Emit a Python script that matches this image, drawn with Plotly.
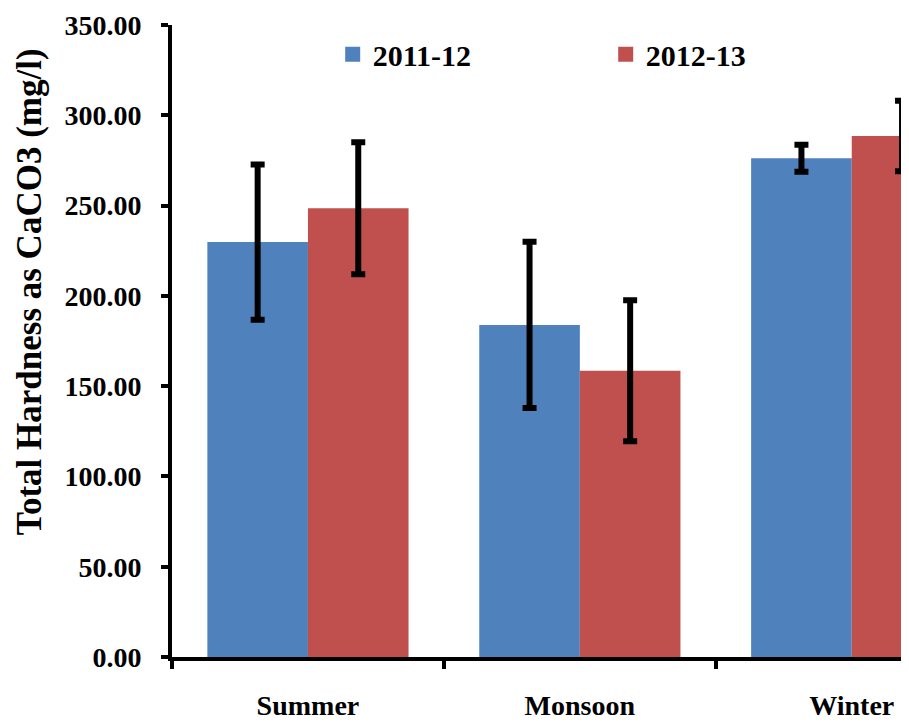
import plotly.graph_objects as go

categories = ["Summer", "Monsoon", "Winter"]
series_names = ["2011-12", "2012-13"]
values_2011 = [229.8, 183.9, 276.2]
values_2012 = [248.5, 158.5, 288.5]
err_2011 = [43.0, 46.0, 7.5]
err_2012 = [36.5, 39.0, 19.5]
y_tickvals = [0, 50, 100, 150, 200, 250, 300, 350]
y_ticktext = ["0.00", "50.00", "100.00", "150.00", "200.00", "250.00", "300.00", "350.00"]
y_title = "Total Hardness as CaCO3 (mg/l)"

BLUE = "#4F81BD"
RED = "#C0504D"
FONT = "Liberation Serif"

fig = go.Figure()
for name, vals, errs, col in [
    (series_names[0], values_2011, err_2011, BLUE),
    (series_names[1], values_2012, err_2012, RED),
]:
    fig.add_trace(go.Bar(
        x=categories, y=vals, name=name, marker=dict(color=col, line=dict(width=0)),
        error_y=dict(type="data", array=errs, visible=True, color="black", thickness=6, width=7),
        showlegend=False, cliponaxis=False,
    ))
    fig.add_trace(go.Scatter(
        x=[None], y=[None], mode="markers", name=name,
        marker=dict(symbol="square", size=15, color=col),
        showlegend=True,
    ))

fig.update_layout(
    width=909, height=727,
    margin=dict(l=164, r=0, t=17, b=78),
    paper_bgcolor="white", plot_bgcolor="white",
    barmode="group", bargap=0.26, bargroupgap=0,
    font=dict(family=FONT, size=28, color="black"),
    legend=dict(
        orientation="h", x=0.2157, y=0.995, xanchor="left", yanchor="top",
        entrywidth=228, entrywidthmode="pixels", itemsizing="trace",
        font=dict(family=FONT, size=30, color="black", weight="bold"),
        bgcolor="rgba(0,0,0,0)",
    ),
    xaxis=dict(
        type="category", range=[-0.5, 2.24], tickson="boundaries", automargin=False,
        showline=True, linecolor="black", linewidth=4,
        ticks="outside", ticklen=8, tickwidth=4, tickcolor="black",
        tickfont=dict(family=FONT, size=28, color="black", weight="bold"),
        ticklabelstandoff=20, showgrid=False, zeroline=False,
    ),
    yaxis=dict(
        range=[0, 350], tickvals=y_tickvals, ticktext=y_ticktext, automargin=False,
        ticklabeloverflow="allow",
        showline=True, linecolor="black", linewidth=4,
        ticks="outside", ticklen=7, tickwidth=4, tickcolor="black",
        tickfont=dict(family=FONT, size=28, color="black", weight="bold"),
        ticklabelstandoff=14, showgrid=False, zeroline=False,
    ),
    annotations=[dict(
        text=y_title, textangle=-90, xref="paper", yref="paper",
        x=-0.2201, y=0.578, xanchor="left", yanchor="middle", showarrow=False,
        font=dict(family=FONT, size=35, color="black", weight="bold"),
    )],
)

fig.write_html("out.html")
